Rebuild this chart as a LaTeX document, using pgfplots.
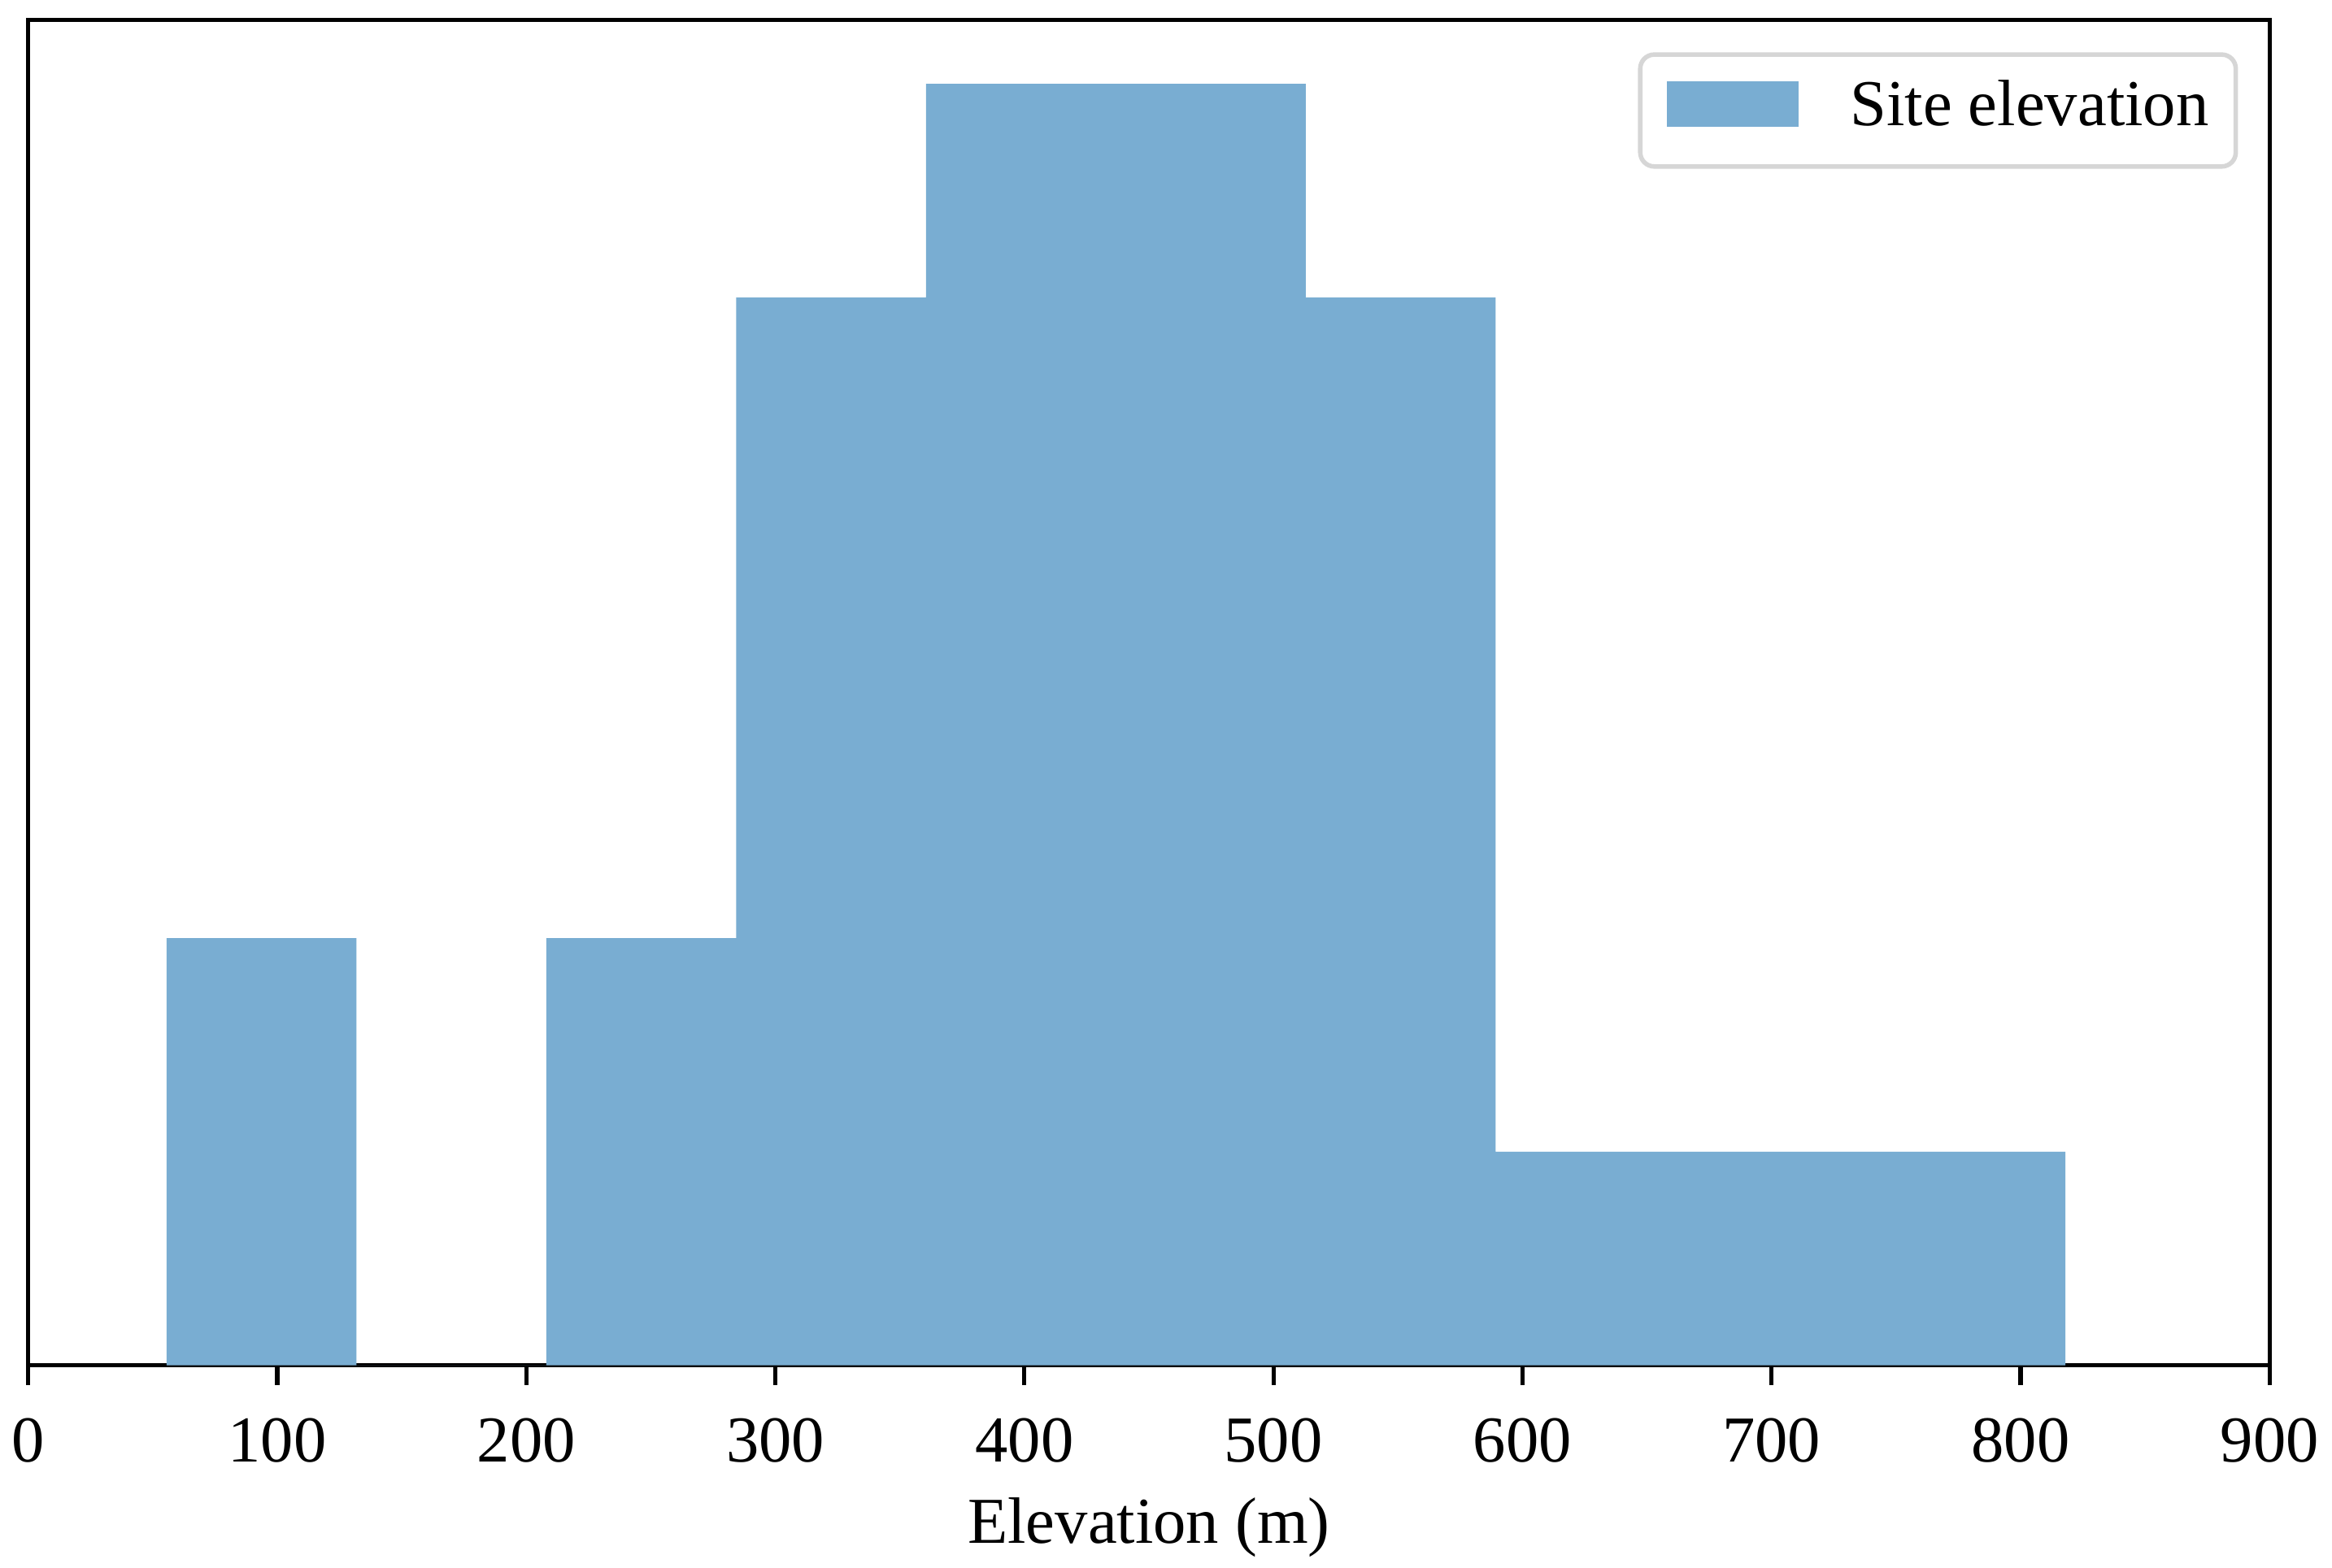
\documentclass[border=0pt]{standalone}
\usepackage{pgfplots}
\pgfplotsset{compat=1.18}
\usepackage{fontspec}
\setmainfont{Liberation Serif}
\definecolor{barblue}{RGB}{121,173,210}
\begin{document}
\begin{tikzpicture}
\begin{axis}[
  scale only axis, width=398.3pt, height=239.2pt,
  xmin=0, xmax=900, ymin=0, ymax=6.3,
  ytick=\empty,
  xtick={0,100,...,900},
  axis line style={line width=0.75pt},
  tick style={line width=0.75pt, black},
  xtick pos=bottom, tick align=outside, major tick length=3.5pt,
  /pgf/number format/assume math mode=true,
  tick label style={font=\fontsize{11.65}{14}\selectfont},
  xticklabel style={anchor=base, yshift=-13.7pt, inner sep=0pt},
  xlabel={Elevation (m)},
  xlabel style={font=\fontsize{11.65}{14}\selectfont, at={(axis description cs:0.5,0)}, anchor=base, yshift=-31.6pt, inner sep=0pt},
  legend style={at={(axis description cs:1,1)}, anchor=north east, xshift=-5.6pt, yshift=-5.8pt,
    draw=black!16, line width=0.8pt, rounded corners=2.5pt, fill=white,
    inner xsep=4.8pt, inner ysep=4.8pt, column sep=0pt,
    font=\fontsize{11.65}{14}\selectfont,
    nodes={inner sep=0pt, text height=7.8pt, text depth=2.5pt, anchor=base west}},
  legend image code/.code={\fill[barblue, draw=none, sharp corners] (0pt,-0.2pt) rectangle (23.3pt,7.8pt); \path[draw=none, fill=none] (0pt,0pt) -- (32.5pt,0pt);},
]
\addplot[ybar interval, fill=barblue, draw=none] table {
x y
55.5 2
131.75 0
208.0 2
284.25 5
360.5 6
436.75 6
513.0 5
589.25 1
665.5 1
741.75 1
818.0 1
};
\addlegendentry{Site elevation}
\end{axis}
\path (current axis.south west) ++(-5.03pt,-36pt);
\path (current axis.north east) ++(11.1pt,3.5pt);
\end{tikzpicture}
\end{document}
